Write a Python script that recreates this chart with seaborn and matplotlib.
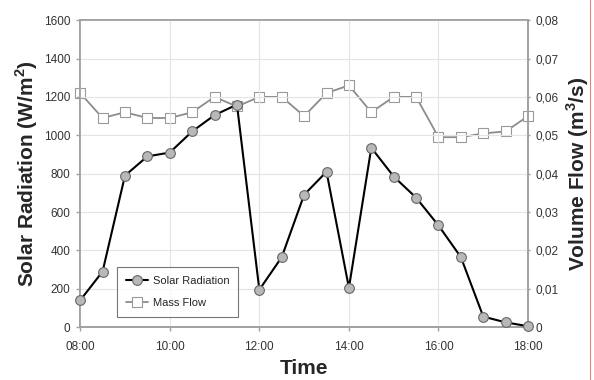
import pandas as pd
import matplotlib
matplotlib.use("Agg")
import matplotlib.pyplot as plt
from matplotlib.ticker import FuncFormatter, MultipleLocator
from matplotlib.lines import Line2D
import seaborn as sns

# half-hourly readings 08:00 - 18:00
times = ["08:00", "08:30", "09:00", "09:30", "10:00", "10:30", "11:00", "11:30",
         "12:00", "12:30", "13:00", "13:30", "14:00", "14:30", "15:00", "15:30",
         "16:00", "16:30", "17:00", "17:30", "18:00"]
solar = [140, 290, 790, 890, 910, 1020, 1105, 1160,
         195, 365, 690, 810, 205, 935, 785, 675,
         530, 365, 55, 25, 5]
flow = [0.061, 0.0545, 0.056, 0.0545, 0.0545, 0.056, 0.060, 0.0575,
        0.060, 0.060, 0.055, 0.061, 0.063, 0.056, 0.060, 0.060,
        0.0495, 0.0495, 0.0505, 0.051, 0.055]

df = pd.DataFrame({"time": times, "solar": solar, "flow": flow})
# convert hh:mm to decimal hours
df["hour"] = df["time"].apply(lambda s: int(s[:2]) + int(s[3:]) / 60)

sns.set_style("white")
plt.rcParams["font.family"] = ["Liberation Sans", "DejaVu Sans"]
plt.rcParams["mathtext.fontset"] = "custom"
plt.rcParams["mathtext.bf"] = "Liberation Sans:bold"
plt.rcParams["mathtext.rm"] = "Liberation Sans:bold"

fig = plt.figure(figsize=(5.94, 3.80), dpi=100)
ax = fig.add_axes([0.135, 0.139, 0.754, 0.808])
ax2 = ax.twinx()

sns.lineplot(x="hour", y="solar", data=df, ax=ax, color="black", lw=1.5,
             marker="o", markersize=7, markerfacecolor="#b8b8b8",
             markeredgecolor="#666666", markeredgewidth=0.8,
             label="Solar Radiation", legend=False, zorder=3, clip_on=False)
sns.lineplot(x="hour", y="flow", data=df, ax=ax2, color="#8c8c8c", lw=1.3,
             marker="s", markersize=6.5, markerfacecolor="white",
             markeredgecolor="#999999", markeredgewidth=0.8,
             label="Mass Flow", legend=False, zorder=2, clip_on=False)

ax.set_xlim(8, 18)
ax.set_ylim(0, 1600)
ax2.set_ylim(0, 0.08)
ax.xaxis.set_major_locator(MultipleLocator(2))
ax.xaxis.set_major_formatter(FuncFormatter(lambda v, p: "%02d:00" % int(round(v))))
ax.yaxis.set_major_locator(MultipleLocator(200))
ax2.yaxis.set_major_locator(MultipleLocator(0.01))
ax2.yaxis.set_major_formatter(
    FuncFormatter(lambda v, p: "0" if abs(v) < 1e-9 else ("%.2f" % v).replace(".", ",")))

ax.grid(True, color="#e4e4e4", lw=0.8)
ax.set_axisbelow(True)
for a in (ax, ax2):
    for sp in a.spines.values():
        sp.set_color("#a0a0a0")
        sp.set_linewidth(1.2)
ax.tick_params(axis="both", labelsize=8.5, colors="#a0a0a0", labelcolor="#333333",
               length=3, width=1, pad=4, left=True, bottom=True, direction="out")
ax.tick_params(axis="x", pad=7)
ax2.tick_params(axis="y", labelsize=8.5, colors="#a0a0a0", labelcolor="#333333",
                length=3, width=1, pad=4, right=True, direction="inout")

ax.set_xlabel("Time", fontsize=15, fontweight="bold", labelpad=4)
ax.set_ylabel(r"Solar Radiation (W/m$^\mathbf{2}$)", fontsize=15, fontweight="bold", labelpad=3)
ax2.set_ylabel(r"Volume Flow (m$^\mathbf{3}$/s)", fontsize=15, fontweight="bold", labelpad=4)

handles = [ax.get_lines()[0], ax2.get_lines()[0]]
leg = ax.legend(handles, ["Solar Radiation", "Mass Flow"], loc="lower left",
                bbox_to_anchor=(0.07, 0.015), fontsize=8, frameon=True,
                fancybox=False, edgecolor="#555555", handlelength=2.0,
                borderpad=0.8, labelspacing=1.1, handletextpad=0.4)
leg.get_frame().set_linewidth(0.8)
ax.set_zorder(ax2.get_zorder() + 1)
ax.patch.set_visible(False)

# thin page edge line at the right
fig.add_artist(Line2D([0.993, 0.993], [0, 1], color="#f08080", lw=0.8))

fig.savefig("out.png", dpi=100)
